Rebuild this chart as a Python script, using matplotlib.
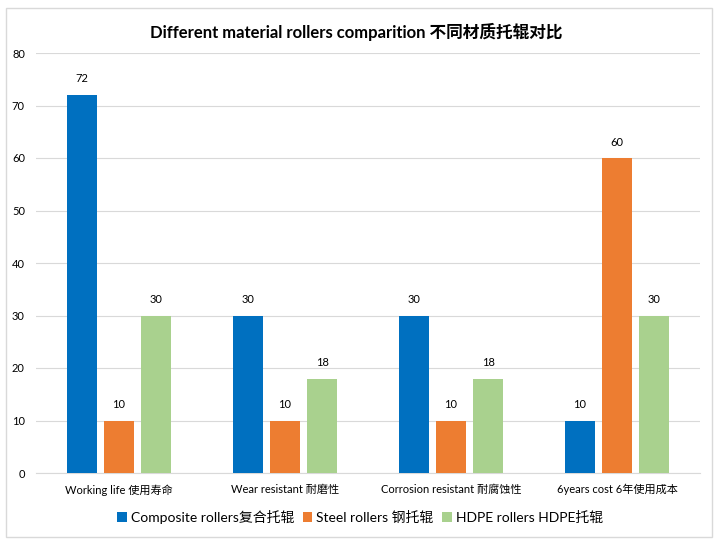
import matplotlib
matplotlib.use("Agg")
import matplotlib.pyplot as plt
import numpy as np
from matplotlib.patches import Rectangle

plt.rcParams['font.family'] = ['Lato', 'Noto Sans CJK SC', 'DejaVu Sans']

categories = ["Working life 使用寿命", "Wear resistant 耐磨性", "Corrosion resistant 耐腐蚀性", "6years cost 6年使用成本"]
series_names = ["Composite rollers复合托辊", "Steel rollers 钢托辊", "HDPE rollers HDPE托辊"]
composite = [72, 30, 30, 10]
steel = [10, 10, 10, 60]
hdpe = [30, 18, 18, 30]
colors = ["#0070C0", "#ED7D31", "#A9D18E"]

fig = plt.figure(figsize=(7.2, 5.43), dpi=100)
fig.patches.append(Rectangle((6/720, 1-537/543), 706/720, 529/543, transform=fig.transFigure,
                             fill=False, edgecolor="#D9D9D9", linewidth=1))
ax = fig.add_axes([36/720, 1-473/543, 664/720, 420/543])

x = np.arange(len(categories))
w = 0.175
off = 0.223
for i, (vals, name) in enumerate(zip([composite, steel, hdpe], series_names)):
    pos = x + (i - 1) * off
    bars = ax.bar(pos, vals, width=w, color=colors[i], label=name, zorder=3)
    for b, v in zip(bars, vals):
        ax.text(b.get_x() + b.get_width()/2, v + 2, str(v), ha="center", va="bottom", fontsize=8, color="#000000")

ax.set_xlim(-0.5, len(categories) - 0.5)
ax.set_ylim(0, 80)
ax.set_yticks(range(0, 81, 10))
ax.set_xticks(x)
ax.set_xticklabels(categories, fontsize=8)
ax.tick_params(axis="y", labelsize=8, length=0, pad=8)
ax.tick_params(axis="x", length=0, pad=8)
ax.grid(axis="y", color="#D9D9D9", linewidth=0.8, zorder=0)
for s in ["top", "right", "left"]:
    ax.spines[s].set_visible(False)
ax.spines["bottom"].set_color("#D9D9D9")

fig.text(356/720, 1-32/543, "Different material rollers comparition 不同材质托辊对比", ha="center", va="center",
         fontsize=12, fontweight="bold")
fig.legend(loc="center", bbox_to_anchor=(360/720, 1-517/543), ncol=3, frameon=False, fontsize=10,
           handlelength=0.7, handleheight=0.7, handletextpad=0.3, columnspacing=0.6)

fig.savefig("out.png", dpi=100)
